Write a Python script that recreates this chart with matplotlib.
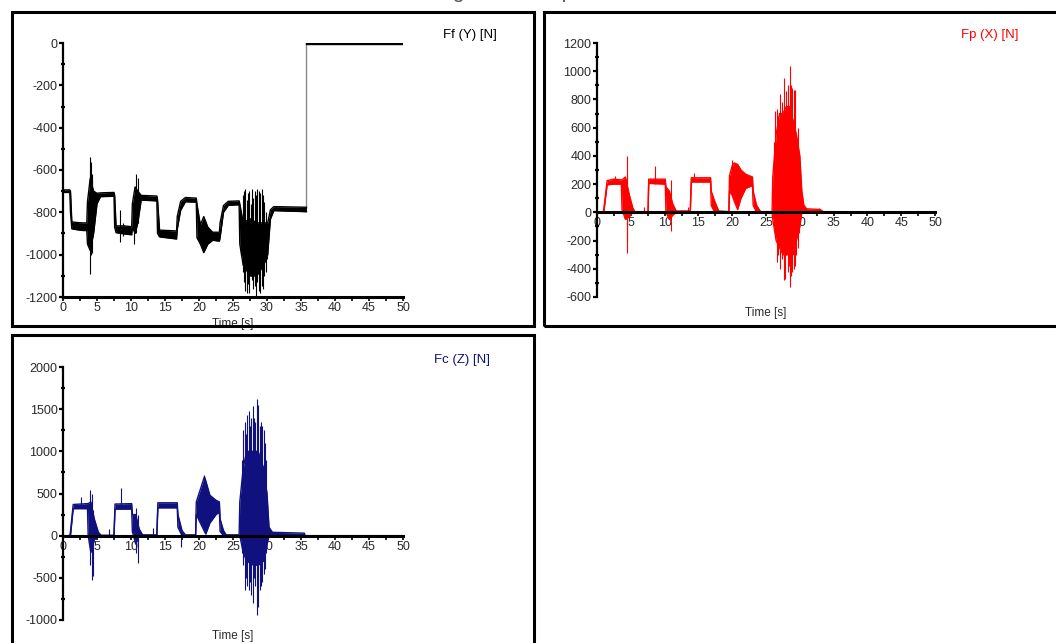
import matplotlib
matplotlib.use("Agg")
from matplotlib import pyplot as plt
from matplotlib.patches import Rectangle
from matplotlib.ticker import MultipleLocator

matplotlib.rc("font", family=["Liberation Sans", "DejaVu Sans"], size=8.5)
matplotlib.rc("axes", unicode_minus=False)

# ---- Ff (Y): envelope of the signal (time, low, high), before the step ----
ff_t = [0.0, 1.0, 1.1, 1.3, 2.0, 3.0, 3.5, 3.6, 4.0, 4.5, 5.0, 5.5, 7.5, 7.6, 7.8, 9.0,
        10.1, 10.2, 10.6, 11.0, 11.5, 13.8, 13.9, 14.2, 16.7, 16.8, 17.3, 18.0, 19.6, 19.7,
        20.2, 20.7, 21.3, 22.0, 23.0, 23.1, 23.6, 24.3, 25.9, 26.0, 26.5, 27.5, 28.5, 29.5,
        30.1, 30.5, 31.0, 35.8]
ff_lo = [-706, -706, -800, -878, -882, -886, -886, -950, -980, -900, -760, -726, -724, -870,
         -896, -902, -906, -870, -900, -850, -742, -746, -900, -916, -926, -880, -790, -750,
         -752, -920, -950, -990, -950, -932, -936, -920, -800, -767, -764, -950, -1050, -1100,
         -1100, -1050, -1000, -832, -792, -797]
ff_hi = [-694, -694, -700, -845, -848, -850, -850, -750, -640, -700, -710, -708, -706, -720,
         -864, -864, -868, -760, -680, -700, -720, -723, -740, -884, -888, -820, -748, -730,
         -733, -760, -860, -820, -870, -894, -894, -850, -768, -748, -746, -760, -850, -830,
         -850, -850, -850, -788, -773, -776]
# after the step at 35.8 s
ff2_t = [35.8, 50.0]
ff2_lo = [-4, -4]
ff2_hi = [4, 4]
ff_spk_t = [3.9, 4.0, 4.1, 4.2, 4.3, 4.4, 8.4, 8.8, 10.5, 10.8, 11.0,
            26.2, 26.4, 26.6, 26.8, 27.0, 27.2, 27.4, 27.6, 27.8, 28.0, 28.2, 28.4, 28.6,
            28.8, 29.0, 29.2, 29.4, 29.6, 29.8, 30.0]
ff_spk_lo = [-900, -1090, -1000, -990, -920, -850, -940, -910, -950, -900, -850,
             -1000, -1080, -1130, -1170, -1180, -1140, -1180, -1100, -1120, -1160, -1150, -1200,
             -1130, -1170, -1180, -1150, -1160, -1100, -1080, -1020]
ff_spk_hi = [-600, -540, -560, -650, -620, -700, -790, -850, -760, -620, -640,
             -800, -720, -700, -690, -740, -710, -700, -760, -690, -730, -700, -720, -690,
             -700, -710, -690, -720, -750, -800, -850]

# ---- Fp (X) ----
fp_t = [0.0, 0.9, 1.0, 1.5, 2.5, 3.6, 3.7, 4.2, 4.8, 5.3, 5.6, 7.55, 7.65, 10.1, 10.2, 10.7,
        11.2, 11.7, 13.8, 13.95, 16.8, 16.9, 17.4, 18.0, 19.5, 19.6, 20.0, 20.3, 20.8, 21.3,
        22.0, 23.0, 23.1, 23.6, 24.2, 25.9, 26.0, 26.5, 27.0, 27.5, 28.0, 28.5, 29.0, 29.5,
        30.0, 30.3, 30.6, 31.0, 33.0, 33.5, 50.0]
fp_lo = [0, 0, 0, 195, 200, 200, 20, -50, -30, 0, 0, 0, 205, 200, 0, -50, -20, 0, 0, 215,
         215, 50, 0, 0, 0, 150, 120, 80, 20, 100, 170, 190, 50, 0, 0, 0, -50, -200, -250,
         -300, -300, -300, -300, -200, -100, 0, 0, 0, 0, 0, 0]
fp_hi = [0, 0, 20, 225, 235, 230, 230, 250, 120, 30, 5, 5, 235, 235, 180, 150, 60, 10, 10,
         245, 245, 150, 80, 10, 5, 260, 330, 350, 340, 300, 270, 250, 150, 50, 5, 5, 250,
         550, 700, 700, 750, 750, 650, 550, 400, 150, 50, 25, 20, 5, 0]
fp_spk_t = [2.7, 4.4, 4.5, 7.0, 8.6, 11.0, 13.5, 14.3, 19.9,
            26.2, 26.4, 26.6, 26.8, 27.0, 27.2, 27.4, 27.6, 27.8, 28.0, 28.2, 28.4, 28.5,
            28.7, 28.9, 29.1, 29.3, 29.5, 29.7, 29.9, 32.8]
fp_spk_lo = [200, -290, -200, 0, 200, -130, 0, 220, 200,
             -100, -150, -350, -300, -400, -250, -330, -480, -470, -300, -420, -380, -530,
             -450, -420, -400, -380, -300, -250, -150, 0]
fp_spk_hi = [260, 400, 250, 40, 330, 230, 40, 280, 370,
             500, 720, 730, 680, 840, 600, 780, 950, 700, 860, 900, 720, 1040,
             900, 880, 870, 870, 550, 600, 430, 30]

# ---- Fc (Z) ----
fc_t = [0.0, 1.0, 1.1, 1.5, 3.6, 3.7, 4.1, 4.6, 5.2, 5.6, 7.5, 7.65, 10.1, 10.2, 10.7, 11.2,
        11.7, 13.8, 13.95, 16.8, 16.9, 17.5, 18.0, 19.5, 19.6, 20.2, 20.8, 21.0, 21.6, 22.5,
        23.0, 23.1, 23.6, 24.0, 25.9, 26.0, 26.5, 27.0, 28.0, 28.7, 29.5, 30.0, 30.3, 30.8,
        35.5, 35.6, 50.0]
fc_lo = [0, 0, 0, 320, 320, 0, -200, -50, 0, 0, 0, 315, 315, 50, -100, 0, 0, 0, 330, 330,
         100, 0, 0, 0, 250, 150, 50, 20, 150, 250, 280, 50, 0, 0, 0, 0, -200, -300, -350,
         -350, -300, -100, 0, 0, 0, 0, 0]
fc_hi = [0, 0, 50, 370, 380, 380, 400, 200, 40, 5, 5, 375, 380, 250, 250, 80, 10, 10, 390,
         390, 250, 60, 10, 10, 400, 550, 700, 650, 480, 420, 400, 200, 60, 10, 10, 400, 800,
         1000, 1000, 1000, 800, 500, 100, 40, 30, 0, 0]
fc_spk_t = [2.7, 4.0, 4.2, 4.4, 6.8, 8.5, 10.8, 11.0, 13.3, 17.3, 20.7,
            26.3, 26.5, 26.7, 26.9, 27.1, 27.3, 27.5, 27.7, 27.9, 28.1, 28.3, 28.5, 28.7,
            28.9, 29.1, 29.3, 29.5, 29.7, 29.9]
fc_spk_lo = [330, -350, -520, -480, 0, 320, -200, -330, 0, -130, 100,
             -200, -350, -650, -500, -600, -650, -550, -700, -800, -500, -600, -940, -850,
             -650, -600, -550, -450, -400, -200]
fc_spk_hi = [460, 540, 500, 300, 80, 570, 330, 250, 90, 50, 720,
             900, 1250, 1350, 1200, 1430, 1480, 1300, 1400, 1540, 1400, 1350, 1620, 1550,
             1300, 1350, 1300, 1250, 1100, 900]

RED = "#ff0000"
NAVY = "#10107e"
TICK = "#2a2a2a"


def draw_signal(ax, t, lo, hi, st, slo, shi, color):
    ax.fill_between(t, lo, hi, color=color, lw=0, zorder=2)
    ax.plot(t, lo, color=color, lw=1.0, zorder=2)
    ax.plot(t, hi, color=color, lw=1.0, zorder=2)
    if st:
        ax.vlines(st, slo, shi, color=color, lw=0.8, zorder=2)


def style_axes(ax, ylim, ymajor, yminor, zero_axis):
    ax.set_xlim(0, 50)
    ax.set_ylim(*ylim)
    for side in ["top", "right"]:
        ax.spines[side].set_visible(False)
    ax.spines["left"].set_linewidth(1.6)
    ax.spines["bottom"].set_linewidth(2.2)
    if zero_axis:
        ax.spines["bottom"].set_position(("data", 0))
    ax.xaxis.set_major_locator(MultipleLocator(5))
    ax.xaxis.set_minor_locator(MultipleLocator(2.5))
    ax.yaxis.set_major_locator(MultipleLocator(ymajor))
    ax.yaxis.set_minor_locator(MultipleLocator(yminor))
    ax.tick_params(axis="x", which="both", direction="out", length=3, width=1.2, pad=0.5,
                   labelcolor=TICK, labelsize=9)
    ax.tick_params(axis="y", which="major", direction="out", length=3, width=1.6, pad=1,
                   labelcolor=TICK, labelsize=9)
    ax.tick_params(axis="y", which="minor", direction="inout", length=3, width=1.6)
    ax.patch.set_visible(False)


fig = plt.figure(figsize=(10.56, 6.43), dpi=100)

# panel frames
W, H = 1056, 643
for x0, y0, x1, y1 in [(12, 12, 534, 326), (544, 12, 1060, 326), (12, 335, 534, 647)]:
    fig.add_artist(Rectangle((x0 / W, 1 - y1 / H), (x1 - x0) / W, (y1 - y0) / H,
                             transform=fig.transFigure, fill=False, ec="black", lw=2.2))

# figure title, cut off by the top edge as in the source
fig.text(0.49, 1.012, "Cutting force components", ha="center", va="center",
         fontsize=15, color="#555555")

ax1 = fig.add_axes([63 / W, 1 - 297 / H, 340 / W, 254 / H])
ax1.plot([35.8, 35.8], [-780, 0], color="#888888", lw=1.0, zorder=1)
draw_signal(ax1, ff_t, ff_lo, ff_hi, ff_spk_t, ff_spk_lo, ff_spk_hi, "black")
draw_signal(ax1, ff2_t, ff2_lo, ff2_hi, [], [], [], "black")
style_axes(ax1, (-1200, 0), 200, 100, False)
ax1.set_xlabel("Time [s]", labelpad=3, color=TICK)
fig.text(470 / W, 1 - 35 / H, "Ff (Y) [N]", ha="center", va="center", fontsize=9.5)

ax2 = fig.add_axes([597 / W, 1 - 297 / H, 338 / W, 254 / H])
draw_signal(ax2, fp_t, fp_lo, fp_hi, fp_spk_t, fp_spk_lo, fp_spk_hi, RED)
style_axes(ax2, (-600, 1200), 200, 100, True)
ax2.set_xlabel("Time [s]", color=TICK)
ax2.xaxis.set_label_coords(0.5, -0.04)
fig.text(990 / W, 1 - 35 / H, "Fp (X) [N]", ha="center", va="center", fontsize=9.5, color=RED)

ax3 = fig.add_axes([63 / W, 1 - 620 / H, 340 / W, 253 / H])
draw_signal(ax3, fc_t, fc_lo, fc_hi, fc_spk_t, fc_spk_lo, fc_spk_hi, NAVY)
style_axes(ax3, (-1000, 2000), 500, 250, True)
ax3.set_xlabel("Time [s]", color=TICK)
ax3.xaxis.set_label_coords(0.5, -0.04)
fig.text(462 / W, 1 - 360 / H, "Fc (Z) [N]", ha="center", va="center", fontsize=9.5, color=NAVY)

plt.savefig("out.png", dpi=100)
